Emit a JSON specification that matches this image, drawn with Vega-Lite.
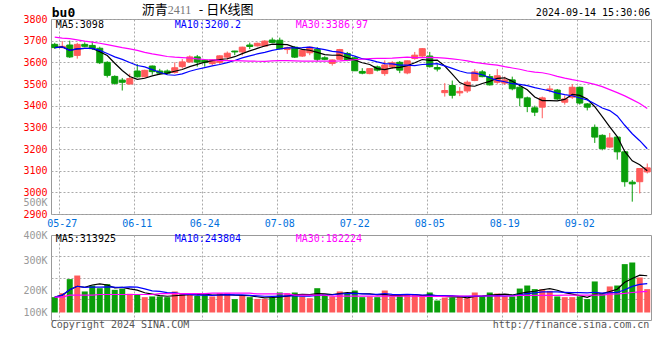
{
 "$schema": "https://vega.github.io/schema/vega-lite/v6.json",
 "background": "white",
 "padding": {"left": 22, "top": 3, "right": 8, "bottom": 5},
 "config": {"view": {"stroke": "#999999"}, "font": "DejaVu Sans Mono", "axis": {"labelFont": "DejaVu Sans Mono", "labelFontSize": 10}},
 "spacing": 21,
 "bounds": "flush",
 "data": {"values": [
{"d":"05-24","o":3683,"h":3690,"l":3662,"c":3668,"v":132000,"m30":3716,"vm30":132000},
{"d":"05-27","o":3668,"h":3698,"l":3665,"c":3674,"v":166000,"m30":3712,"vm30":132000},
{"d":"05-28","o":3680,"h":3700,"l":3620,"c":3625,"v":287000,"m30":3709,"vm30":150000},
{"d":"05-29","o":3632,"h":3690,"l":3617,"c":3683,"v":318000,"m30":3704,"vm30":150000},
{"d":"05-30","o":3683,"h":3692,"l":3670,"c":3674,"v":181000,"m30":3698,"vm30":150000},
{"d":"05-31","o":3678,"h":3695,"l":3657,"c":3663,"v":232000,"m30":3693,"vm30":150000},
{"d":"06-03","o":3665,"h":3672,"l":3592,"c":3598,"v":209000,"m30":3688,"vm30":155000},
{"d":"06-04","o":3600,"h":3605,"l":3530,"c":3540,"v":244000,"m30":3682,"vm30":155000},
{"d":"06-05","o":3535,"h":3540,"l":3497,"c":3503,"v":195000,"m30":3675,"vm30":155000},
{"d":"06-06","o":3518,"h":3528,"l":3470,"c":3508,"v":204000,"m30":3668,"vm30":155000},
{"d":"06-07","o":3500,"h":3548,"l":3497,"c":3525,"v":161000,"m30":3662,"vm30":155000},
{"d":"06-11","o":3560,"h":3592,"l":3530,"c":3533,"v":158000,"m30":3655,"vm30":155000},
{"d":"06-12","o":3533,"h":3566,"l":3530,"c":3563,"v":132000,"m30":3646,"vm30":155000},
{"d":"06-13","o":3583,"h":3585,"l":3543,"c":3557,"v":138000,"m30":3639,"vm30":155000},
{"d":"06-14","o":3560,"h":3570,"l":3543,"c":3550,"v":138000,"m30":3633,"vm30":163000},
{"d":"06-17","o":3560,"h":3567,"l":3543,"c":3550,"v":132000,"m30":3627,"vm30":163000},
{"d":"06-18","o":3553,"h":3600,"l":3548,"c":3575,"v":181000,"m30":3624,"vm30":163000},
{"d":"06-19","o":3580,"h":3615,"l":3572,"c":3602,"v":161000,"m30":3622,"vm30":163000},
{"d":"06-20","o":3602,"h":3632,"l":3598,"c":3625,"v":152000,"m30":3620,"vm30":163000},
{"d":"06-21","o":3625,"h":3634,"l":3580,"c":3601,"v":143000,"m30":3616,"vm30":163000},
{"d":"06-24","o":3610,"h":3615,"l":3580,"c":3599,"v":158000,"m30":3613,"vm30":163000},
{"d":"06-25","o":3594,"h":3614,"l":3585,"c":3611,"v":138000,"m30":3611,"vm30":166000},
{"d":"06-26","o":3600,"h":3632,"l":3590,"c":3630,"v":166000,"m30":3609,"vm30":166000},
{"d":"06-27","o":3624,"h":3650,"l":3612,"c":3642,"v":166000,"m30":3608,"vm30":166000},
{"d":"06-28","o":3652,"h":3653,"l":3633,"c":3648,"v":115000,"m30":3608,"vm30":166000},
{"d":"07-01","o":3648,"h":3672,"l":3632,"c":3670,"v":146000,"m30":3607,"vm30":166000},
{"d":"07-02","o":3680,"h":3691,"l":3661,"c":3673,"v":132000,"m30":3606,"vm30":166000},
{"d":"07-03","o":3676,"h":3691,"l":3673,"c":3688,"v":117000,"m30":3605,"vm30":160000},
{"d":"07-04","o":3675,"h":3702,"l":3673,"c":3698,"v":117000,"m30":3604,"vm30":160000},
{"d":"07-05","o":3703,"h":3714,"l":3690,"c":3692,"v":132000,"m30":3607,"vm30":160000},
{"d":"07-08","o":3702,"h":3714,"l":3660,"c":3662,"v":172000,"m30":3608,"vm30":160000},
{"d":"07-09","o":3659,"h":3672,"l":3639,"c":3668,"v":166000,"m30":3608,"vm30":160000},
{"d":"07-10","o":3670,"h":3674,"l":3620,"c":3624,"v":172000,"m30":3607,"vm30":150000},
{"d":"07-11","o":3629,"h":3660,"l":3625,"c":3655,"v":138000,"m30":3606,"vm30":150000},
{"d":"07-12","o":3644,"h":3672,"l":3633,"c":3670,"v":123000,"m30":3606,"vm30":150000},
{"d":"07-15","o":3660,"h":3670,"l":3605,"c":3614,"v":209000,"m30":3606,"vm30":150000},
{"d":"07-16","o":3621,"h":3628,"l":3610,"c":3614,"v":158000,"m30":3606,"vm30":150000},
{"d":"07-17","o":3595,"h":3613,"l":3585,"c":3611,"v":138000,"m30":3606,"vm30":140000},
{"d":"07-18","o":3614,"h":3662,"l":3612,"c":3659,"v":181000,"m30":3607,"vm30":140000},
{"d":"07-19","o":3641,"h":3648,"l":3605,"c":3609,"v":166000,"m30":3609,"vm30":140000},
{"d":"07-22","o":3621,"h":3624,"l":3560,"c":3561,"v":189000,"m30":3612,"vm30":140000},
{"d":"07-23","o":3558,"h":3573,"l":3545,"c":3550,"v":132000,"m30":3615,"vm30":140000},
{"d":"07-24","o":3548,"h":3573,"l":3545,"c":3571,"v":138000,"m30":3617,"vm30":140000},
{"d":"07-25","o":3579,"h":3585,"l":3558,"c":3564,"v":132000,"m30":3618,"vm30":140000},
{"d":"07-26","o":3548,"h":3609,"l":3538,"c":3588,"v":189000,"m30":3618,"vm30":140000},
{"d":"07-29","o":3579,"h":3605,"l":3570,"c":3598,"v":138000,"m30":3619,"vm30":140000},
{"d":"07-30","o":3600,"h":3606,"l":3550,"c":3564,"v":143000,"m30":3622,"vm30":140000},
{"d":"07-31","o":3551,"h":3608,"l":3545,"c":3607,"v":152000,"m30":3624,"vm30":140000},
{"d":"08-01","o":3618,"h":3648,"l":3612,"c":3633,"v":152000,"m30":3622,"vm30":140000},
{"d":"08-02","o":3629,"h":3666,"l":3624,"c":3663,"v":138000,"m30":3622,"vm30":139000},
{"d":"08-05","o":3629,"h":3648,"l":3576,"c":3580,"v":172000,"m30":3623,"vm30":139000},
{"d":"08-06","o":3576,"h":3591,"l":3558,"c":3569,"v":103000,"m30":3622,"vm30":139000},
{"d":"08-07","o":3460,"h":3504,"l":3442,"c":3470,"v":129000,"m30":3619,"vm30":139000},
{"d":"08-08","o":3493,"h":3516,"l":3433,"c":3448,"v":129000,"m30":3616,"vm30":142000},
{"d":"08-09","o":3459,"h":3486,"l":3444,"c":3466,"v":143000,"m30":3612,"vm30":142000},
{"d":"08-12","o":3468,"h":3516,"l":3459,"c":3508,"v":123000,"m30":3607,"vm30":142000},
{"d":"08-13","o":3516,"h":3569,"l":3513,"c":3556,"v":172000,"m30":3600,"vm30":142000},
{"d":"08-14","o":3556,"h":3564,"l":3531,"c":3534,"v":143000,"m30":3595,"vm30":142000},
{"d":"08-15","o":3534,"h":3546,"l":3493,"c":3496,"v":172000,"m30":3591,"vm30":142000},
{"d":"08-16","o":3508,"h":3569,"l":3501,"c":3538,"v":163000,"m30":3587,"vm30":142000},
{"d":"08-19","o":3504,"h":3534,"l":3496,"c":3519,"v":138000,"m30":3580,"vm30":142000},
{"d":"08-20","o":3519,"h":3534,"l":3471,"c":3478,"v":138000,"m30":3574,"vm30":142000},
{"d":"08-21","o":3485,"h":3490,"l":3398,"c":3436,"v":206000,"m30":3568,"vm30":148000},
{"d":"08-22","o":3436,"h":3442,"l":3370,"c":3396,"v":232000,"m30":3560,"vm30":148000},
{"d":"08-23","o":3390,"h":3400,"l":3352,"c":3370,"v":201000,"m30":3555,"vm30":148000},
{"d":"08-26","o":3393,"h":3442,"l":3342,"c":3436,"v":201000,"m30":3552,"vm30":148000},
{"d":"08-27","o":3473,"h":3493,"l":3462,"c":3477,"v":186000,"m30":3545,"vm30":148000},
{"d":"08-28","o":3472,"h":3477,"l":3427,"c":3431,"v":138000,"m30":3535,"vm30":148000},
{"d":"08-29","o":3416,"h":3447,"l":3405,"c":3431,"v":132000,"m30":3527,"vm30":150000},
{"d":"08-30","o":3439,"h":3500,"l":3431,"c":3485,"v":132000,"m30":3520,"vm30":150000},
{"d":"09-02","o":3485,"h":3488,"l":3405,"c":3412,"v":138000,"m30":3514,"vm30":150000},
{"d":"09-03","o":3408,"h":3412,"l":3378,"c":3393,"v":115000,"m30":3506,"vm30":150000},
{"d":"09-04","o":3300,"h":3313,"l":3228,"c":3255,"v":267000,"m30":3498,"vm30":150000},
{"d":"09-05","o":3263,"h":3268,"l":3194,"c":3202,"v":161000,"m30":3488,"vm30":150000},
{"d":"09-06","o":3209,"h":3274,"l":3206,"c":3251,"v":224000,"m30":3474,"vm30":158000},
{"d":"09-09","o":3255,"h":3258,"l":3151,"c":3187,"v":232000,"m30":3460,"vm30":160000},
{"d":"09-10","o":3187,"h":3190,"l":3026,"c":3049,"v":416000,"m30":3445,"vm30":165000},
{"d":"09-11","o":3047,"h":3057,"l":2957,"c":3039,"v":430000,"m30":3428,"vm30":172000},
{"d":"09-12","o":3049,"h":3112,"l":2995,"c":3110,"v":301000,"m30":3410,"vm30":178000},
{"d":"09-13","o":3094,"h":3133,"l":3087,"c":3113,"v":201000,"m30":3387,"vm30":182000}
 ]},
 "vconcat": [
  {
   "width": 600, "height": 195,
   "layer": [
    {"mark": {"type": "rule", "strokeWidth": 1},
     "encoding": {
      "x": {"field": "d", "type": "ordinal", "title": null,
            "scale": {"type": "band", "paddingInner": 0.2, "paddingOuter": 0.1},
            "axis": {"values": ["05-27","06-11","06-24","07-08","07-22","08-05","08-19","09-02"], "labelColor": "#0070dd", "labelAngle": 0, "grid": true, "gridColor": "#aaaaaa", "gridDash": [2,2], "ticks": false, "domain": false, "labelPadding": 4, "bandPosition": 0.1}},
      "y": {"field": "l", "type": "quantitative", "title": null,
            "scale": {"domain": [2900, 3800], "zero": false, "nice": false},
            "axis": {"values": [2900, 2953, 3000, 3100, 3200, 3300, 3400, 3500, 3600, 3700, 3800], "tickCount": 40,
                     "labelExpr": "datum.value == 2953 ? '500K' : format(datum.value, 'd')",
                     "labelColor": {"condition": {"test": "datum.value == 2953", "value": "#999999"}, "value": "#ff0000"},
                     "gridOpacity": {"condition": {"test": "datum.value == 2953", "value": 0}, "value": 1},
                     "grid": true, "gridColor": "#aaaaaa", "gridDash": [2,2], "ticks": false, "domain": false,
                     "labelPadding": 4, "labelOverlap": false, "labelFlush": false, "labelBound": false}},
      "y2": {"field": "h"},
      "color": {"condition": {"test": "datum.c >= datum.o", "value": "#ff5a5a"}, "value": "#0a9e0a"}
     }},
    {"mark": {"type": "bar", "strokeWidth": 1},
     "encoding": {
      "x": {"field": "d", "type": "ordinal"},
      "y": {"field": "o", "type": "quantitative"},
      "y2": {"field": "c"},
      "color": {"condition": {"test": "datum.c >= datum.o", "value": "#ff5a5a"}, "value": "#0a9e0a"},
      "stroke": {"condition": {"test": "datum.c >= datum.o", "value": "#ff5a5a"}, "value": "#0a9e0a"}
     }},
    {"transform": [{"window": [{"op": "mean", "field": "c", "as": "ma"}], "frame": [-4, 0], "sort": [{"field": "d"}]}],
     "mark": {"type": "line", "color": "#000000", "strokeWidth": 1.2},
     "encoding": {"x": {"field": "d", "type": "ordinal"}, "y": {"field": "ma", "type": "quantitative"}}},
    {"transform": [{"window": [{"op": "mean", "field": "c", "as": "ma"}], "frame": [-9, 0], "sort": [{"field": "d"}]}],
     "mark": {"type": "line", "color": "#0000ff", "strokeWidth": 1.2},
     "encoding": {"x": {"field": "d", "type": "ordinal"}, "y": {"field": "ma", "type": "quantitative"}}},
    {"mark": {"type": "line", "color": "#ff00ff", "strokeWidth": 1.2},
     "encoding": {"x": {"field": "d", "type": "ordinal"}, "y": {"field": "m30", "type": "quantitative"}}},
    {"data": {"values": [{}]},
     "mark": {"type": "text", "text": "MA5:3098", "align": "left", "baseline": "middle", "fontSize": 10, "dx": 1, "color": "#000000"},
     "encoding": {"x": {"datum": "05-24", "type": "ordinal"}, "y": {"datum": 3772, "type": "quantitative"}}},
    {"data": {"values": [{}]},
     "mark": {"type": "text", "text": "MA10:3200.2", "align": "left", "baseline": "middle", "fontSize": 10, "dx": 0, "color": "#0000ff"},
     "encoding": {"x": {"datum": "06-18", "type": "ordinal"}, "y": {"datum": 3772, "type": "quantitative"}}},
    {"data": {"values": [{}]},
     "mark": {"type": "text", "text": "MA30:3386.97", "align": "left", "baseline": "middle", "fontSize": 10, "dx": 1, "color": "#ff00ff"},
     "encoding": {"x": {"datum": "07-10", "type": "ordinal"}, "y": {"datum": 3772, "type": "quantitative"}}},
    {"data": {"values": [{}]},
     "mark": {"type": "text", "text": "bu0", "align": "left", "baseline": "middle", "fontSize": 13, "fontWeight": "bold", "dx": -3, "color": "#000000"},
     "encoding": {"x": {"datum": "05-24", "type": "ordinal"}, "y": {"datum": 3830, "type": "quantitative"}}},
    {"data": {"values": [{}]},
     "mark": {"type": "text", "text": "沥青", "align": "right", "baseline": "middle", "fontSize": 13, "font": "Noto Sans CJK SC", "dx": -37, "color": "#000000"},
     "encoding": {"x": {"datum": "06-24", "type": "ordinal"}, "y": {"datum": 3841, "type": "quantitative"}}},
    {"data": {"values": [{}]},
     "mark": {"type": "text", "text": "2411", "align": "left", "baseline": "middle", "fontSize": 12, "font": "Liberation Serif", "dx": -37, "color": "#777777"},
     "encoding": {"x": {"datum": "06-24", "type": "ordinal"}, "y": {"datum": 3841, "type": "quantitative"}}},
    {"data": {"values": [{}]},
     "mark": {"type": "text", "text": "-  日K线图", "align": "left", "baseline": "middle", "fontSize": 13, "font": "Noto Sans CJK SC", "dx": -6, "color": "#000000"},
     "encoding": {"x": {"datum": "06-24", "type": "ordinal"}, "y": {"datum": 3841, "type": "quantitative"}}},
    {"data": {"values": [{}]},
     "mark": {"type": "text", "text": "2024-09-14 15:30:06", "align": "right", "baseline": "middle", "fontSize": 10, "dx": 3, "color": "#000000"},
     "encoding": {"x": {"datum": "09-13", "type": "ordinal"}, "y": {"datum": 3829, "type": "quantitative"}}}
   ]
  },
  {
   "width": 600, "height": 85,
   "layer": [
    {"mark": {"type": "bar"},
     "encoding": {
      "x": {"field": "d", "type": "ordinal", "title": null,
            "scale": {"type": "band", "paddingInner": 0.2, "paddingOuter": 0.1},
            "axis": {"values": ["05-27","06-11","06-24","07-08","07-22","08-05","08-19","09-02"], "labels": false, "grid": true, "gridColor": "#aaaaaa", "gridDash": [2,2], "ticks": false, "domain": false, "bandPosition": 0.1}},
      "y": {"field": "v", "type": "quantitative", "title": null,
            "scale": {"domain": [-64500, 666500], "zero": false, "nice": false},
            "axis": {"values": [0, 118000, 185000, 301000, 443000, 483000, 666000], "tickCount": 40,
                     "labelExpr": "datum.value == 0 ? '100K' : datum.value == 185000 ? '200K' : datum.value == 443000 ? '300K' : datum.value == 666000 ? '400K' : ''",
                     "labelColor": "#999999",
                     "gridOpacity": {"condition": {"test": "datum.value == 118000 || datum.value == 301000 || datum.value == 483000", "value": 1}, "value": 0},
                     "grid": true, "gridColor": "#aaaaaa", "gridDash": [2,2], "ticks": false, "domain": false,
                     "labelPadding": 4, "labelOverlap": false, "labelFlush": false, "labelBound": false}},
      "y2": {"datum": 0},
      "color": {"condition": {"test": "datum.c >= datum.o", "value": "#ff5a5a"}, "value": "#0a9e0a"}
     }},
    {"transform": [{"window": [{"op": "mean", "field": "v", "as": "ma"}], "frame": [-4, 0], "sort": [{"field": "d"}]}],
     "mark": {"type": "line", "color": "#000000", "strokeWidth": 1.2},
     "encoding": {"x": {"field": "d", "type": "ordinal"}, "y": {"field": "ma", "type": "quantitative"}}},
    {"transform": [{"window": [{"op": "mean", "field": "v", "as": "ma"}], "frame": [-9, 0], "sort": [{"field": "d"}]}],
     "mark": {"type": "line", "color": "#0000ff", "strokeWidth": 1.2},
     "encoding": {"x": {"field": "d", "type": "ordinal"}, "y": {"field": "ma", "type": "quantitative"}}},
    {"mark": {"type": "line", "color": "#ff00ff", "strokeWidth": 1.2},
     "encoding": {"x": {"field": "d", "type": "ordinal"}, "y": {"field": "vm30", "type": "quantitative"}}},
    {"data": {"values": [{}]},
     "mark": {"type": "text", "text": "MA5:313925", "align": "left", "baseline": "middle", "fontSize": 10, "dx": 1, "color": "#000000"},
     "encoding": {"x": {"datum": "05-24", "type": "ordinal"}, "y": {"datum": 629500, "type": "quantitative"}}},
    {"data": {"values": [{}]},
     "mark": {"type": "text", "text": "MA10:243804", "align": "left", "baseline": "middle", "fontSize": 10, "dx": 0, "color": "#0000ff"},
     "encoding": {"x": {"datum": "06-18", "type": "ordinal"}, "y": {"datum": 629500, "type": "quantitative"}}},
    {"data": {"values": [{}]},
     "mark": {"type": "text", "text": "MA30:182224", "align": "left", "baseline": "middle", "fontSize": 10, "dx": 1, "color": "#ff00ff"},
     "encoding": {"x": {"datum": "07-10", "type": "ordinal"}, "y": {"datum": 629500, "type": "quantitative"}}},
    {"data": {"values": [{}]},
     "mark": {"type": "text", "text": "Copyright 2024 SINA.COM", "align": "left", "baseline": "middle", "fontSize": 10, "dx": -4, "color": "#555555"},
     "encoding": {"x": {"datum": "05-24", "type": "ordinal"}, "y": {"datum": -107500, "type": "quantitative"}}},
    {"data": {"values": [{}]},
     "mark": {"type": "text", "text": "http://finance.sina.com.cn", "align": "right", "baseline": "middle", "fontSize": 10, "dx": 2, "color": "#555555"},
     "encoding": {"x": {"datum": "09-13", "type": "ordinal"}, "y": {"datum": -107500, "type": "quantitative"}}}
   ]
  }
 ]
}
